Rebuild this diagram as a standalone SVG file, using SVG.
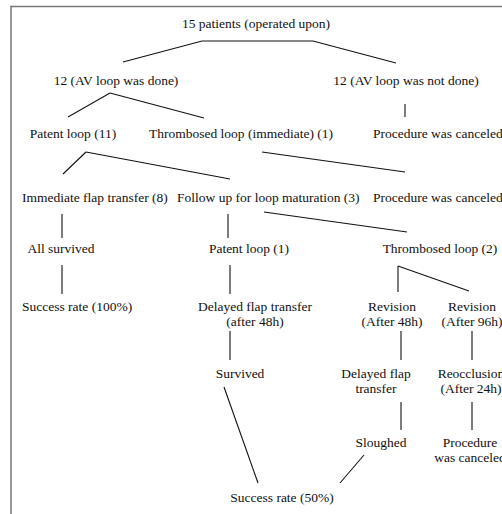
<svg xmlns="http://www.w3.org/2000/svg" width="502" height="514" viewBox="0 0 502 514">
<style>
text{font-family:"Liberation Serif","Times New Roman",serif;font-size:13.5px;fill:#111;}
.m{text-anchor:middle;}
.c line,.c polyline{stroke:#111;stroke-width:1.1;fill:none;}
</style>
<rect x="0" y="0" width="502" height="514" fill="#fff"/>
<rect x="11" y="6.5" width="520" height="540" fill="none" stroke="#777" stroke-width="1.5"/>
<g id="connectors" class="c">
<polyline points="123,62 202,41 313,41 396,63"/>
<line x1="110" y1="93" x2="68" y2="117"/>
<line x1="110" y1="93" x2="204" y2="118"/>
<line x1="405" y1="104" x2="405" y2="117"/>
<line x1="86" y1="152" x2="63" y2="174"/>
<line x1="86" y1="152" x2="230" y2="179"/>
<line x1="262" y1="152" x2="405" y2="172"/>
<line x1="62" y1="214" x2="62" y2="238"/>
<line x1="228" y1="214" x2="228" y2="238"/>
<line x1="264" y1="212" x2="407" y2="232"/>
<line x1="62" y1="265" x2="62" y2="294"/>
<line x1="230" y1="265" x2="230" y2="294"/>
<line x1="398" y1="266" x2="398" y2="292"/>
<line x1="398" y1="266" x2="469" y2="291"/>
<line x1="230" y1="331" x2="230" y2="360"/>
<line x1="401" y1="331" x2="401" y2="360"/>
<line x1="472" y1="331" x2="472" y2="360"/>
<line x1="224" y1="387" x2="258" y2="483"/>
<line x1="401" y1="402" x2="401" y2="430"/>
<line x1="472" y1="402" x2="472" y2="430"/>
<line x1="364" y1="455" x2="340" y2="483"/>
</g>
<g id="n-root"><text class="m" x="256" y="28">15 patients (operated upon)</text></g>
<g id="n-done"><text class="m" x="116" y="85">12 (AV loop was done)</text></g>
<g id="n-notdone"><text class="m" x="406" y="85">12 (AV loop was not done)</text></g>
<g id="n-patent"><text class="m" x="73" y="138">Patent loop (11)</text></g>
<g id="n-thromb-imm"><text class="m" x="241" y="138">Thrombosed loop (immediate) (1)</text></g>
<g id="n-cancel1"><text x="373" y="138">Procedure was canceled</text></g>
<g id="n-immediate"><text x="22" y="202">Immediate flap transfer (8)</text></g>
<g id="n-followup"><text x="177" y="202">Follow up for loop maturation (3)</text></g>
<g id="n-cancel2"><text x="373" y="202">Procedure was canceled</text></g>
<g id="n-allsurv"><text class="m" x="61" y="253">All survived</text></g>
<g id="n-patent1"><text class="m" x="249" y="253">Patent loop (1)</text></g>
<g id="n-thromb2"><text class="m" x="440" y="253">Thrombosed loop (2)</text></g>
<g id="n-success100"><text x="22" y="311">Success rate (100%)</text></g>
<g id="n-delayed1"><text class="m" x="255" y="311">Delayed flap transfer</text><text class="m" x="255" y="326">(after 48h)</text></g>
<g id="n-rev48"><text class="m" x="392" y="311">Revision</text><text class="m" x="392" y="326">(After 48h)</text></g>
<g id="n-rev96"><text class="m" x="472" y="311">Revision</text><text class="m" x="472" y="326">(After 96h)</text></g>
<g id="n-survived"><text class="m" x="240" y="378">Survived</text></g>
<g id="n-delayed2"><text class="m" x="376" y="378">Delayed flap</text><text class="m" x="376" y="393">transfer</text></g>
<g id="n-reocc"><text class="m" x="471" y="378">Reocclusion</text><text class="m" x="471" y="393">(After 24h)</text></g>
<g id="n-sloughed"><text class="m" x="381" y="447">Sloughed</text></g>
<g id="n-cancel3"><text class="m" x="470" y="447">Procedure</text><text class="m" x="470" y="462">was canceled</text></g>
<g id="n-success50"><text class="m" x="282" y="502">Success rate (50%)</text></g>
</svg>
